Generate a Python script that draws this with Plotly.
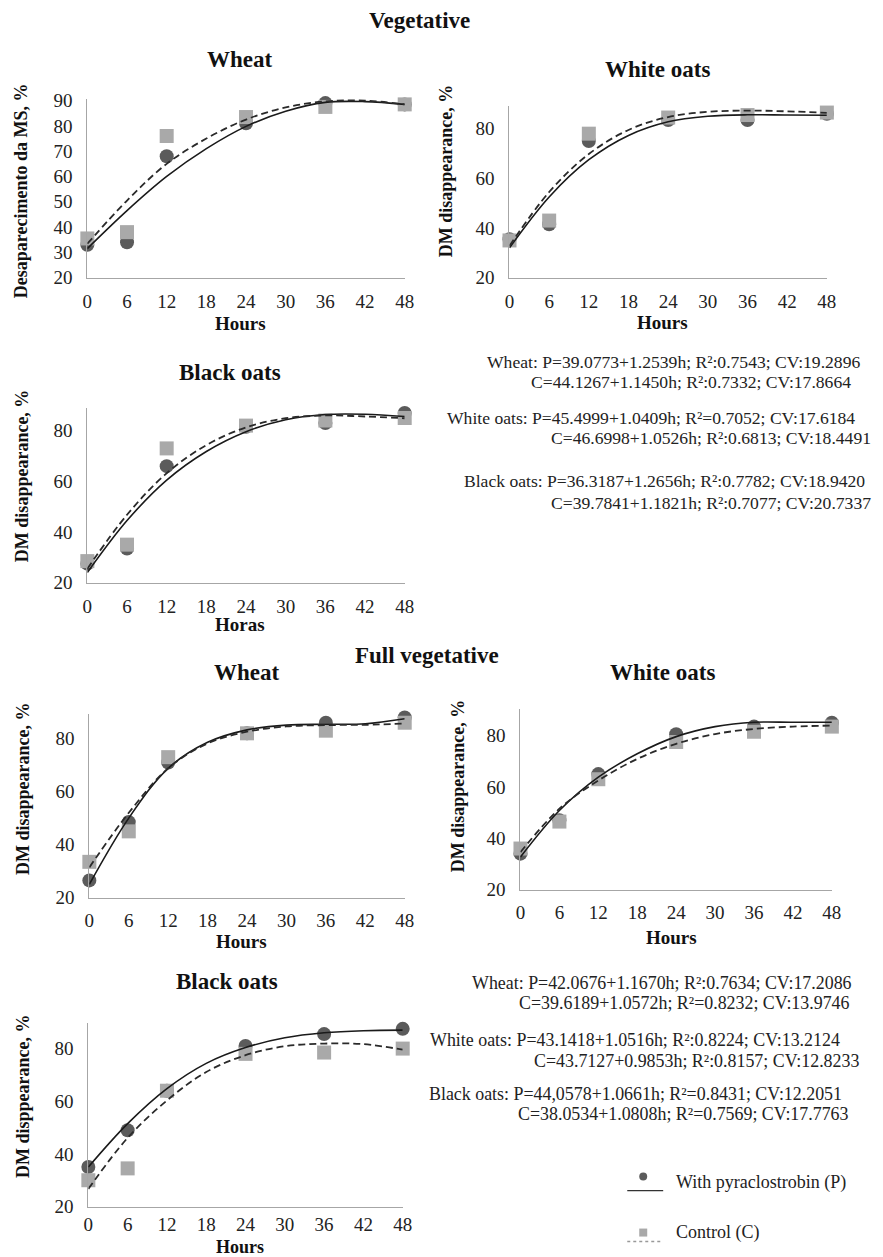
import plotly.graph_objects as go

W, H = 883, 1257

# ---------------- data ----------------
hours = [0, 6, 12, 24, 36, 48]
fit_hours = [0, 6, 12, 18, 24, 30, 36, 42, 48]
x_ticks = [0, 6, 12, 18, 24, 30, 36, 42, 48]

# Vegetative - Wheat
veg_wheat_P = [33, 34, 68, 81, 89, 88.5]
veg_wheat_C = [35.5, 38, 76, 83.5, 87.5, 88.5]
veg_wheat_P_fit = [31.5, 46.5, 60.0, 71.0, 79.8, 85.8, 89.3, 89.6, 88.5]
veg_wheat_C_fit = [33.4, 50.5, 65.0, 75.0, 82.5, 87.3, 89.7, 90.0, 88.5]

# Vegetative - White oats
veg_white_P = [35.5, 41.5, 75, 83.5, 83.5, 86]
veg_white_C = [35, 43, 78, 84.5, 85.5, 86.5]
veg_white_P_fit = [32.0, 52.5, 67.5, 77.3, 82.8, 85.0, 85.6, 85.5, 85.4]
veg_white_C_fit = [32.8, 54.5, 69.8, 79.5, 84.7, 86.8, 87.3, 87.0, 86.4]

# Vegetative - Black oats
veg_black_P = [27.5, 33.5, 66, 81.5, 83, 87]
veg_black_C = [28.5, 35, 73, 82, 84, 85]
veg_black_P_fit = [24.0, 44.5, 60.5, 71.8, 79.6, 84.3, 86.4, 86.5, 85.6]
veg_black_C_fit = [25.5, 46.8, 63.2, 74.3, 81.3, 84.9, 86.0, 85.6, 84.9]

# Full vegetative - Wheat
full_wheat_P = [26.5, 48.5, 71, 82, 86, 88]
full_wheat_C = [33.5, 45, 73, 82, 83, 86]
full_wheat_P_fit = [25.0, 50.0, 68.8, 78.6, 83.3, 85.1, 85.4, 85.6, 87.5]
full_wheat_C_fit = [31.4, 52.0, 68.8, 78.2, 82.6, 84.6, 85.1, 85.2, 85.7]

# Full vegetative - White oats
full_white_P = [34, 47, 65, 80.5, 83.5, 85]
full_white_C = [36, 46.5, 63, 77.5, 81.5, 83.5]
full_white_P_fit = [32.7, 50.8, 63.8, 72.9, 79.6, 83.5, 85.2, 85.2, 85.2]
full_white_C_fit = [34.6, 51.5, 62.5, 70.9, 76.8, 80.6, 82.6, 83.5, 83.9]

# Full vegetative - Black oats
full_black_P = [35, 49, 64, 81, 85.5, 87.5]
full_black_C = [30, 34.5, 64, 78, 78.5, 80]
full_black_P_fit = [35.0, 51.5, 64.8, 74.4, 80.4, 84.1, 86.0, 86.8, 87.0]
full_black_C_fit = [26.7, 46.1, 60.3, 71.1, 77.5, 80.9, 81.9, 81.7, 79.6]

panel_titles = ["Wheat", "White oats", "Black oats", "Wheat", "White oats", "Black oats"]
y_titles = ["Desaparecimento da MS, %", "DM disappearance, %", "DM disappearance, %",
            "DM disappearance, %", "DM disappearance, %", "DM disppearance, %"]
x_titles = ["Hours", "Hours", "Horas", "Hours", "Hours", "Hours"]
y_dticks = [10, 20, 20, 20, 20, 20]

eq_block1 = [
    "Wheat: P=39.0773+1.2539h; R\u00b2:0.7543; CV:19.2896",
    "C=44.1267+1.1450h; R\u00b2:0.7332; CV:17.8664",
    "White oats: P=45.4999+1.0409h; R\u00b2=0.7052; CV:17.6184",
    "C=46.6998+1.0526h; R\u00b2:0.6813; CV:18.4491",
    "Black oats: P=36.3187+1.2656h; R\u00b2:0.7782; CV:18.9420",
    "C=39.7841+1.1821h; R\u00b2:0.7077; CV:20.7337",
]
eq_block2 = [
    "Wheat: P=42.0676+1.1670h; R\u00b2:0.7634; CV:17.2086",
    "C=39.6189+1.0572h; R\u00b2=0.8232; CV:13.9746",
    "White oats: P=43.1418+1.0516h; R\u00b2:0.8224; CV:13.2124",
    "C=43.7127+0.9853h; R\u00b2:0.8157; CV:12.8233",
    "Black oats: P=44,0578+1.0661h; R\u00b2=0.8431; CV:12.2051",
    "C=38.0534+1.0808h; R\u00b2=0.7569; CV:17.7763",
]
legend_labels = ["With pyraclostrobin\u00a0(P)", "Control (C)"]

panels = [
    (veg_wheat_P, veg_wheat_C, veg_wheat_P_fit, veg_wheat_C_fit),
    (veg_white_P, veg_white_C, veg_white_P_fit, veg_white_C_fit),
    (veg_black_P, veg_black_C, veg_black_P_fit, veg_black_C_fit),
    (full_wheat_P, full_wheat_C, full_wheat_P_fit, full_wheat_C_fit),
    (full_white_P, full_white_C, full_white_P_fit, full_white_C_fit),
    (full_black_P, full_black_C, full_black_P_fit, full_black_C_fit),
]

# ---------------- layout geometry (target pixels in the picture) ----------------
# x of 0h, x of 48h, y of value 20, px per unit, top value of axis
geom = [
    (87, 405, 277, 2.53, 90.8),
    (510, 828, 277, 2.483, 89.3),
    (87, 405, 582, 2.533, 89.1),
    (89, 405, 897, 2.65, 89.4),
    (521, 833, 889, 2.567, 90.5),
    (88, 403, 1206, 2.633, 89.9),
]
x_standoff = [6, 6, 6, 6, 6, 1]
x_title_size = [19, 19, 19, 19, 19, 18]
title_pos = [(240, 59), (658, 69), (230, 372), (247, 672), (663, 672), (227, 981)]
ytitle_pos = [(20, 190), (446, 170), (21, 475), (22, 788), (458, 785), (22, 1095)]
xtitle_pos = [(240, 323), (663, 322), (240, 624), (241, 941), (672, 937), (240, 1246)]

SERIF = "Liberation Serif"
CIRCLE_COL = "#5b5b5b"
SQUARE_COL = "#a9a9a9"
AXIS_COL = "#a6a6a6"

# page offset / scale compensation
AX, AY, SC = 12.5, 15.3, 0.985


def px(x):
    return (x - AX) / (SC * W)


def py(y):
    return 1 - (y - AY) / (SC * H)


fig = go.Figure()
layout = dict(
    width=W, height=H,
    margin=dict(l=0, r=0, t=0, b=0),
    paper_bgcolor="white", plot_bgcolor="white",
    showlegend=False,
    font=dict(family=SERIF, color="#222"),
)
annotations = []

for i, (pP, pC, fP, fC) in enumerate(panels):
    n = "" if i == 0 else str(i + 1)
    xa, ya = "x" + n, "y" + n
    x0, x1, yb, k, ytop = geom[i]
    ytop_px = yb - (ytop - 20) * k
    layout["xaxis" + n] = dict(
        domain=[px(x0), px(x1)], range=[0, 48], anchor=ya,
        tickvals=x_ticks, ticktext=[str(v) for v in x_ticks],
        showline=True, linecolor=AXIS_COL, linewidth=1.2,
        showgrid=False, zeroline=False, ticks="",
        tickfont=dict(family=SERIF, size=19, color="#222"),
        ticklabelstandoff=x_standoff[i],
    )
    layout["yaxis" + n] = dict(
        domain=[py(yb), py(ytop_px)], range=[20, ytop], anchor=xa,
        tick0=20, dtick=y_dticks[i],
        showline=True, linecolor=AXIS_COL, linewidth=1.2,
        showgrid=False, zeroline=False, ticks="",
        tickfont=dict(family=SERIF, size=19, color="#222"),
        ticklabelstandoff=10,
    )
    fig.add_trace(go.Scatter(x=hours, y=pP, mode="markers", xaxis=xa, yaxis=ya,
                             marker=dict(symbol="circle", size=14, color=CIRCLE_COL),
                             cliponaxis=False, name=legend_labels[0]))
    fig.add_trace(go.Scatter(x=hours, y=pC, mode="markers", xaxis=xa, yaxis=ya,
                             marker=dict(symbol="square", size=14, color=SQUARE_COL),
                             cliponaxis=False, name=legend_labels[1]))
    fig.add_trace(go.Scatter(x=fit_hours, y=fP, mode="lines", xaxis=xa, yaxis=ya,
                             line=dict(color="#1a1a1a", width=1.6, shape="spline"),
                             name=legend_labels[0] + " fit"))
    fig.add_trace(go.Scatter(x=fit_hours, y=fC, mode="lines", xaxis=xa, yaxis=ya,
                             line=dict(color="#2a2a2a", width=1.8, shape="spline", dash="7px,4px"),
                             name=legend_labels[1] + " fit"))

    tx, ty = title_pos[i]
    annotations.append(dict(text="<b>%s</b>" % panel_titles[i], x=px(tx), y=py(ty),
                            xref="paper", yref="paper", showarrow=False,
                            xanchor="center", yanchor="middle",
                            font=dict(family=SERIF, size=23, color="#111")))
    yx, yy = ytitle_pos[i]
    annotations.append(dict(text="<b>%s</b>" % y_titles[i], x=px(yx), y=py(yy),
                            xref="paper", yref="paper", showarrow=False, textangle=-90,
                            xanchor="center", yanchor="middle",
                            font=dict(family=SERIF, size=18, color="#111")))
    hx, hy = xtitle_pos[i]
    annotations.append(dict(text="<b>%s</b>" % x_titles[i], x=px(hx), y=py(hy),
                            xref="paper", yref="paper", showarrow=False,
                            xanchor="center", yanchor="middle", borderpad=0,
                            font=dict(family=SERIF, size=x_title_size[i], color="#111")))

# section titles
for txt, (sx, sy) in [("Vegetative", (420, 20)), ("Full vegetative", (427, 655))]:
    annotations.append(dict(text="<b>%s</b>" % txt, x=px(sx), y=py(sy),
                            xref="paper", yref="paper", showarrow=False,
                            xanchor="center", yanchor="middle",
                            font=dict(family=SERIF, size=23, color="#111")))

# equation text blocks
eq_pos1 = [(485, 361), (530, 381), (445, 417), (550, 437), (462, 480), (550, 502)]
eq_pos2 = [(470, 982), (518, 1002), (428, 1039), (533, 1060), (427, 1093), (517, 1113)]
for lines, poss, fs in [(eq_block1, eq_pos1, 17.6), (eq_block2, eq_pos2, 17.9)]:
    for t, (ex, ey) in zip(lines, poss):
        annotations.append(dict(text=t, x=px(ex), y=py(ey), xref="paper", yref="paper",
                                showarrow=False, xanchor="left", yanchor="middle",
                                font=dict(family=SERIF, size=fs, color="#222")))

# legend
for t, ly in zip(legend_labels, [1182, 1232]):
    annotations.append(dict(text=t, x=px(675), y=py(ly), xref="paper", yref="paper",
                            showarrow=False, xanchor="left", yanchor="middle",
                            font=dict(family=SERIF, size=18, color="#222")))
shapes = [
    dict(type="circle", xref="paper", yref="paper", x0=px(640), x1=px(648), y0=py(1180), y1=py(1172),
         fillcolor=CIRCLE_COL, line=dict(width=0)),
    dict(type="line", xref="paper", yref="paper", x0=px(628), x1=px(664), y0=py(1190), y1=py(1190),
         line=dict(color="#333", width=1.2)),
    dict(type="rect", xref="paper", yref="paper", x0=px(640), x1=px(648), y0=py(1236), y1=py(1228),
         fillcolor=SQUARE_COL, line=dict(width=0)),
    dict(type="line", xref="paper", yref="paper", x0=px(628), x1=px(664), y0=py(1241), y1=py(1241),
         line=dict(color="#999", width=1.5, dash="3px,3px")),
]
layout["annotations"] = annotations
layout["shapes"] = shapes
fig.update_layout(**layout)
fig.write_html("out.html")
